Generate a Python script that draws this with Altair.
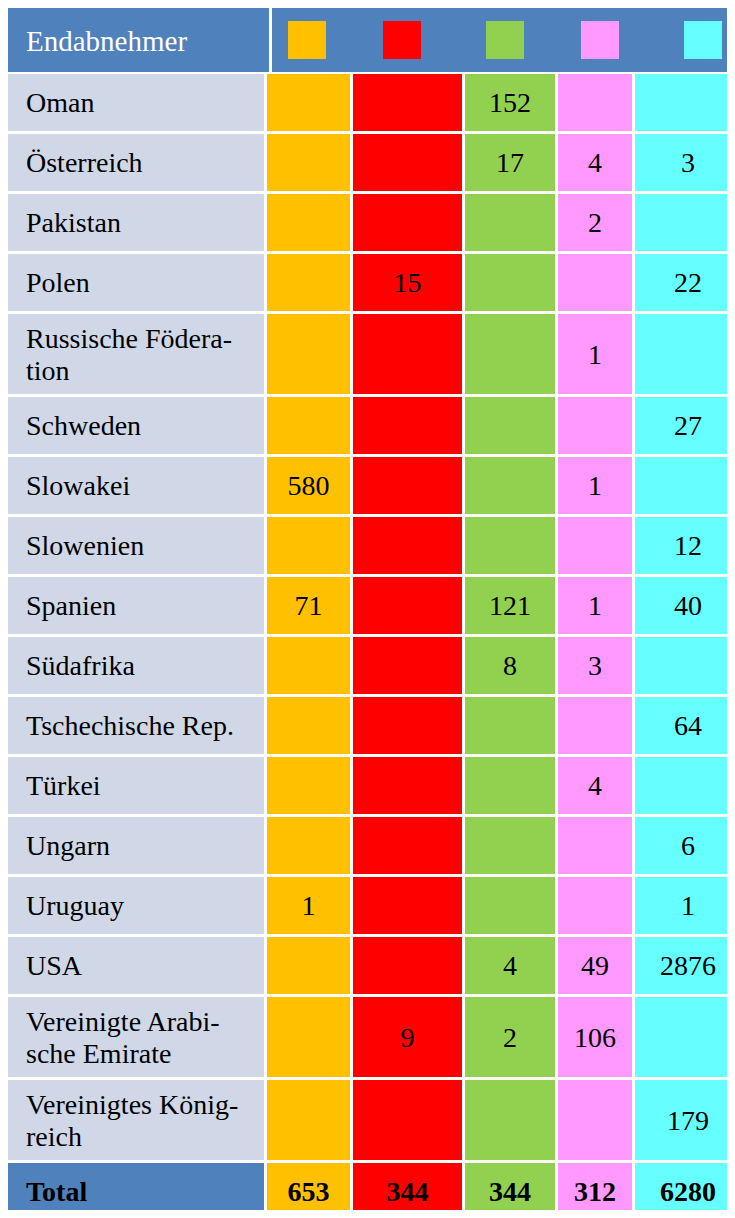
import altair as alt
import pandas as pd

# ---------------- data ----------------
countries = [
    "Oman", "Österreich", "Pakistan", "Polen", "Russische Födera-\ntion",
    "Schweden", "Slowakei", "Slowenien", "Spanien", "Südafrika",
    "Tschechische Rep.", "Türkei", "Ungarn", "Uruguay", "USA",
    "Vereinigte Arabi-\nsche Emirate", "Vereinigtes König-\nreich",
]
yellow = [None, None, None, None, None, None, 580, None, 71, None, None, None, None, 1, None, None, None]
red = [None, None, None, 15, None, None, None, None, None, None, None, None, None, None, None, 9, None]
green = [152, 17, None, None, None, None, None, None, 121, 8, None, None, None, None, 4, 2, None]
pink = [None, 4, 2, None, 1, None, 1, None, 1, 3, None, 4, None, None, 49, 106, None]
cyan = [None, 3, None, 22, None, 27, None, 12, 40, None, 64, None, 6, 1, 2876, None, 179]
totals = [653, 344, 344, 312, 6280]
header_label = "Endabnehmer"
total_label = "Total"

# ---------------- styles / layout ----------------
W, H = 719, 1202
BLUE = "#4F81BD"
LABEL_BG = "#D0D8E8"
col_colors = ["#FFC000", "#FF0000", "#92D050", "#FF99FF", "#66FFFF"]
label_span = (0, 256)
col_spans = [(259, 342), (345, 454), (457, 547), (550, 624), (627, 733)]
header_left = (0, 261)
header_right = (264, 733)
HEADER_H = 64
square_cx = [299, 394, 497, 592, 695]
SQ = 38
ROW0 = 66
BASE_H = 57
LINE_EXTRA = 23
GAP = 3
LH = 32
FONT = "Liberation Serif"
FS = 28

series = [yellow, red, green, pink, cyan]

rects = []
texts_label = []
texts_val = []

# header
rects.append(dict(x=header_left[0], x2=header_left[1], y=0, y2=HEADER_H, c=BLUE))
rects.append(dict(x=header_right[0], x2=header_right[1], y=0, y2=HEADER_H, c=BLUE))
for cx, c in zip(square_cx, col_colors):
    rects.append(dict(x=cx - SQ / 2, x2=cx + SQ / 2, y=HEADER_H / 2 - SQ / 2, y2=HEADER_H / 2 + SQ / 2, c=c))

top = ROW0
for i, name in enumerate(countries):
    nlines = name.count("\n") + 1
    h = BASE_H + LINE_EXTRA * (nlines - 1)
    bot = top + h
    mid = (top + bot) / 2
    rects.append(dict(x=label_span[0], x2=label_span[1], y=top, y2=bot, c=LABEL_BG))
    texts_label.append(dict(x=18, y=mid - (nlines - 1) * LH / 2, t=name))
    for (x0, x1), c, s in zip(col_spans, col_colors, series):
        rects.append(dict(x=x0, x2=x1, y=top, y2=bot, c=c))
        if s[i] is not None:
            texts_val.append(dict(x=(x0 + x1) / 2, y=mid, t=str(s[i])))
    top = bot + GAP

# total row
tot_top = top
tot_bot = top + BASE_H
tot_mid = (tot_top + tot_bot) / 2
rects.append(dict(x=label_span[0], x2=label_span[1], y=tot_top, y2=tot_bot, c=BLUE))
for (x0, x1), c in zip(col_spans, col_colors):
    rects.append(dict(x=x0, x2=x1, y=tot_top, y2=tot_bot, c=c))
tot_texts = [dict(x=(x0 + x1) / 2, y=tot_mid, t=str(v)) for (x0, x1), v in zip(col_spans, totals)]

rect_df = pd.DataFrame(rects)
label_df = pd.DataFrame(texts_label)
val_df = pd.DataFrame(texts_val)
tot_df = pd.DataFrame(tot_texts)
tot_label_df = pd.DataFrame([dict(x=18, y=tot_mid, t=total_label)])
head_df = pd.DataFrame([dict(x=18, y=HEADER_H / 2, t=header_label)])

xs = alt.Scale(domain=[0, W], range=[0, W], nice=False, zero=False)
ys = alt.Scale(domain=[0, H], range=[0, H], nice=False, zero=False)

base_rect = alt.Chart(rect_df).mark_rect(clip=True).encode(
    x=alt.X("x:Q", scale=xs, axis=None),
    x2="x2:Q",
    y=alt.Y("y:Q", scale=ys, axis=None),
    y2="y2:Q",
    color=alt.Color("c:N", scale=None),
)


def text_layer(df, align, weight="normal", color="#000000", size=FS):
    return alt.Chart(df).mark_text(
        align=align, baseline="middle", font=FONT, fontSize=size,
        fontWeight=weight, color=color, lineBreak="\n", lineHeight=LH, dy=1.5,
    ).encode(
        x=alt.X("x:Q", scale=xs, axis=None),
        y=alt.Y("y:Q", scale=ys, axis=None),
        text="t:N",
    )


chart = alt.layer(
    base_rect,
    text_layer(head_df, "left", color="#FFFFFF", size=29),
    text_layer(label_df, "left"),
    text_layer(val_df, "center"),
    text_layer(tot_label_df, "left", weight="bold"),
    text_layer(tot_df, "center", weight="bold"),
).properties(
    width=W, height=H, padding=0, autosize=alt.AutoSizeParams(type="none"),
    background="#FFFFFF",
).configure_view(strokeWidth=0)

chart.save("out.html", embed_options={"renderer": "svg", "actions": False})
